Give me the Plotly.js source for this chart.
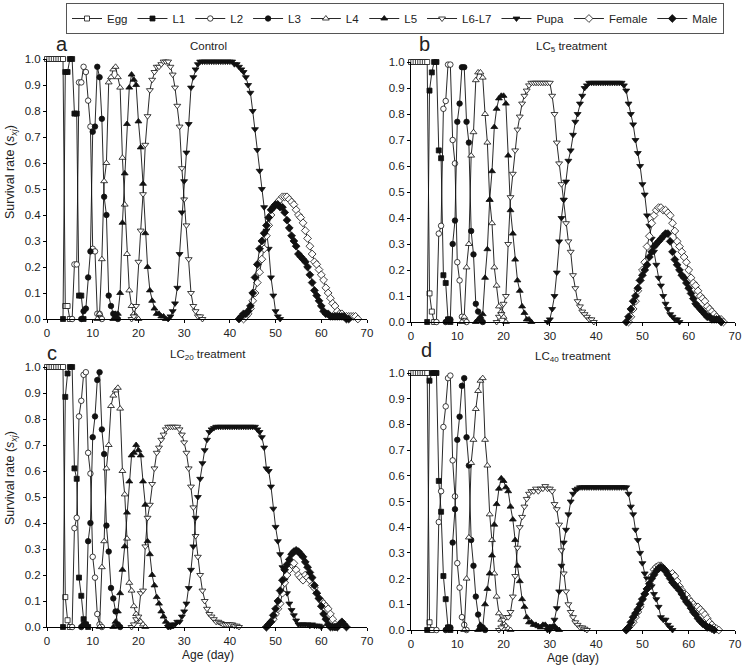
<!DOCTYPE html>
<html><head><meta charset="utf-8">
<script src="https://cdn.plot.ly/plotly-3.0.1.min.js"></script>
<style>html,body{margin:0;padding:0;background:#fff}#chart{width:742px;height:668px}</style>
</head><body><div id="chart"></div>
<script>
// Age grid step (days) shared by all series
const STEP = 0.5;
const stageNames = ['Egg','L1','L2','L3','L4','L5','L6-L7','Pupa','Female','Male'];

// ---------- Panel a: Control ----------
const startA = [0,3.5,5.5,7.5,11.0,14.5,18.5,26.5,43.0,42.0];
const a_egg = [1,1,1,1,1,1,1,1,0.05,0.05,0];
const a_L1 = [0,0.95,0.95,1,1,0.79,0.79,0.09,0.09,0];
const a_L2 = [0,0.21,0.21,0.91,0.91,0.97,0.95,0.84,0.74,0.27,0.26,0.02,0.02,0];
const a_L3 = [0,0.03,0.04,0.16,0.26,0.72,0.74,0.97,0.93,0.77,0.47,0.40,0.09,0.05,0.02,0.01,0];
const a_L4 = [0,0.02,0.23,0.53,0.60,0.91,0.93,0.96,0.97,0.93,0.89,0.62,0.44,0.25,0.11,0.05,0.02,0.01,0];
const a_L5 = [0,0.02,0.02,0.10,0.37,0.56,0.75,0.89,0.94,0.92,0.90,0.76,0.66,0.52,0.33,0.20,0.11,0.07,0.04,0.02,0.02,0.01,0.01,0];
const a_L6 = [0,0.01,0.05,0.22,0.34,0.48,0.67,0.78,0.88,0.92,0.95,0.97,0.97,0.98,0.99,0.99,0.99,0.97,0.94,0.89,0.82,0.74,0.58,0.46,0.36,0.23,0.10,0.05,0.03,0.01,0.01,0];
const a_pupa = [0,0.01,0.03,0.06,0.12,0.25,0.41,0.53,0.64,0.75,0.89,0.93,0.96,0.98,
  0.99,0.99,0.99,0.99,0.99,0.99,0.99,0.99,0.99,0.99,0.99,0.99,0.99,0.99,0.99,
  0.98,0.98,0.97,0.96,0.95,0.93,0.90,0.87,0.80,0.73,0.65,0.57,0.50,0.43,0.34,0.27,0.16,0.09,0.03,0.01,0];
const a_female = [0,0.01,0.02,0.04,0.07,0.10,0.14,0.18,0.23,0.27,0.32,0.36,0.40,0.43,0.44,0.45,0.46,0.47,0.47,0.47,0.46,0.45,0.44,0.42,0.40,0.39,0.37,0.34,0.31,0.28,0.25,0.22,0.21,0.19,0.17,0.15,0.12,0.10,0.08,0.06,0.05,0.03,0.02,0.02,0.01,0.01,0.01,0.01,0.01,0.01,0];
const a_male = [0,0.01,0.02,0.02,0.03,0.05,0.10,0.16,0.21,0.27,0.30,0.33,0.36,0.39,0.42,0.43,0.44,0.44,0.43,0.43,0.41,0.38,0.35,0.32,0.30,0.28,0.25,0.24,0.23,0.22,0.20,0.17,0.14,0.11,0.09,0.07,0.05,0.03,0.02,0.02,0.01,0.01,0.01,0.01,0.01,0.01,0.01,0,0];

// ---------- Panel b: LC5 ----------
const startB = [0,3.5,5.5,7.5,11.0,14.0,18.5,29.5,47.0,46.5];
const b_egg = [1,1,1,1,1,1,1,1,0.11,0.04,0];
const b_L1 = [0,0.89,0.96,1,1,0.66,0.63,0.18,0.15,0.01,0];
const b_L2 = [0,0.34,0.37,0.82,0.85,0.99,0.99,0.70,0.61,0.23,0.16,0.02,0.01,0];
const b_L3 = [0,0.01,0.01,0.30,0.39,0.77,0.84,0.98,0.98,0.77,0.69,0.35,0.26,0.07,0.04,0.01,0];
const b_L4 = [0,0.02,0.21,0.30,0.64,0.73,0.93,0.96,0.96,0.94,0.80,0.69,0.47,0.38,0.21,0.14,0.06,0.04,0.02,0];
const b_L5 = [0,0.01,0.02,0.03,0.17,0.28,0.47,0.58,0.75,0.82,0.86,0.87,0.87,0.84,0.64,0.43,0.34,0.24,0.16,0.12,0.06,0.035,0.01,0.01,0];
const b_L6 = [0,0.02,0.03,0.07,0.10,0.30,0.48,0.57,0.66,0.74,0.79,0.84,0.87,0.89,0.91,
  0.92,0.92,0.92,0.92,0.92,0.92,0.92,0.92,0.92,
  0.87,0.80,0.69,0.61,0.53,0.47,0.38,0.31,0.27,0.18,0.13,0.08,0.06,0.04,0.03,0.02,0.01,0.01,0];
const b_pupa = [0,0.01,0.05,0.10,0.19,0.31,0.40,0.47,0.54,0.62,0.66,0.72,0.77,0.80,0.84,0.87,0.90,0.91,0.92,
  0.92,0.92,0.92,0.92,0.92,0.92,0.92,0.92,0.92,0.92,0.92,0.92,0.92,0.92,
  0.91,0.89,0.84,0.80,0.76,0.70,0.65,0.60,0.53,0.49,0.41,0.37,0.32,0.27,0.22,0.17,0.14,0.10,0.07,0.05,0.03,0.02,0.01,0.01,0];
const b_female = [0,0.02,0.05,0.08,0.12,0.16,0.20,0.23,0.29,0.33,0.38,0.41,0.43,0.44,0.44,0.43,0.43,0.42,0.41,0.38,0.35,0.31,0.29,0.27,0.25,0.23,0.20,0.17,0.15,0.14,0.12,0.10,0.09,0.08,0.06,0.05,0.04,0.03,0.02,0.01,0.01,0];
const b_male = [0,0.02,0.05,0.08,0.10,0.13,0.16,0.18,0.20,0.22,0.25,0.27,0.29,0.30,0.31,0.32,0.33,0.34,0.34,0.31,0.27,0.24,0.22,0.20,0.18,0.17,0.15,0.13,0.11,0.09,0.07,0.06,0.05,0.04,0.03,0.02,0.02,0.01,0.01,0.01,0.01,0];

// ---------- Panel c: LC20 ----------
const startC = [0,3.5,5.5,7.5,11.5,14.5,18.5,26.5,48.0,48.0];
const c_egg = [1,1,1,1,1,1,1,1,0.115,0.026,0];
const c_L1 = [0,0.885,0.975,1,1,0.61,0.57,0.19,0.12,0.03,0.01,0];
const c_L2 = [0,0.38,0.42,0.81,0.87,0.97,0.98,0.67,0.59,0.27,0.19,0.05,0.01,0];
const c_L3 = [0,0.01,0.01,0.33,0.40,0.73,0.81,0.95,0.98,0.76,0.665,0.39,0.29,0.15,0.11,0.06,0.01,0];
const c_L4 = [0,0.23,0.33,0.61,0.70,0.85,0.89,0.91,0.92,0.84,0.60,0.51,0.34,0.17,0.14,0.08,0.05,0.03,0.02,0.01,0];
const c_L5 = [0,0.02,0.06,0.13,0.22,0.31,0.44,0.56,0.66,0.67,0.70,0.68,0.66,0.56,0.47,0.33,0.28,0.20,0.16,0.115,0.09,0.06,0.04,0.02,0.01,0];
const c_L6 = [0,0.01,0.03,0.04,0.13,0.14,0.31,0.42,0.47,0.55,0.61,0.67,0.69,0.72,0.74,0.76,0.77,0.77,0.77,0.77,0.77,0.76,0.74,
  0.71,0.67,0.61,0.54,0.46,0.35,0.27,0.20,0.14,0.10,0.07,0.05,0.04,0.03,0.02,0.02,0.015,0.01,0.01,0.01,0.01,0.01,0.005,0.005,0];
const c_pupa = [0,0,0.01,0.01,0.02,0.02,0.04,0.06,0.09,0.15,0.22,0.31,0.42,0.50,0.57,0.63,0.68,0.72,0.75,0.76,0.765,
  0.77,0.77,0.77,0.77,0.77,0.77,0.77,0.77,0.77,0.77,0.77,0.77,0.77,0.77,0.77,0.77,0.77,0.77,
  0.76,0.75,0.73,0.69,0.61,0.60,0.54,0.455,0.385,0.33,0.28,0.23,0.18,0.13,0.09,0.065,0.045,0.025,0.01,0.01,0.01,0.01,0.01,0.005,0.01,0.005,0.005,0.005,0];
const c_female = [0,0.01,0.02,0.03,0.05,0.07,0.09,0.13,0.17,0.20,0.22,0.24,0.245,0.22,0.20,0.19,0.18,0.20,0.19,0.18,0.16,0.15,0.13,0.11,0.10,0.09,0.08,0.07,0.05,0.03,0.01,0];
const c_male = [0,0.01,0.02,0.045,0.07,0.10,0.14,0.18,0.22,0.24,0.26,0.28,0.29,0.295,0.29,0.28,0.27,0.25,0.23,0.21,0.19,0.16,0.13,0.11,0.08,0.05,0.03,0.01,0,0,0,0,0.01,0.02,0.01,0];

// ---------- Panel d: LC40 ----------
const startD = [0,3.5,5.5,7.5,11.5,14.5,19.0,29.5,46.5,46.5];
const d_egg = [1,1,1,1,1,1,1,1,0.03,0];
const d_L1 = [0,0.97,1,1,1,0.58,0.46,0.21,0.12,0.01,0];
const d_L2 = [0,0.42,0.54,0.79,0.87,0.98,0.99,0.66,0.52,0.26,0.165,0.05,0.02,0];
const d_L3 = [0,0.01,0.01,0.34,0.47,0.74,0.83,0.95,0.98,0.75,0.64,0.35,0.25,0.13,0.06,0.01,0.01,0];
const d_L4 = [0,0.20,0.36,0.65,0.74,0.86,0.93,0.97,0.98,0.74,0.64,0.45,0.35,0.22,0.13,0.065,0.04,0.026,0.015,0.006,0];
const d_L5 = [0,0.02,0.01,0.10,0.16,0.22,0.29,0.41,0.49,0.55,0.59,0.58,0.555,0.54,0.48,0.43,0.35,0.25,0.19,0.12,0.09,0.05,0.03,0.03,0.02,0.02,0.015,0.01,0.02,0.02,0.01,0.01,0.01,0.015,0.005,0];
const d_L6 = [0,0.01,0.04,0.05,0.05,0.07,0.13,0.21,0.32,0.40,0.44,0.48,0.51,0.53,0.54,0.54,0.55,0.54,0.55,0.55,0.56,0.55,0.55,0.54,
  0.49,0.47,0.41,0.31,0.22,0.15,0.10,0.07,0.05,0.03,0.02,0.01,0.01,0.005,0];
const d_pupa = [0,0,0.015,0.04,0.085,0.15,0.25,0.34,0.39,0.45,0.50,0.53,0.545,0.55,
  0.555,0.555,0.555,0.555,0.555,0.555,0.555,0.555,0.555,0.555,0.555,0.555,0.555,0.555,0.555,0.555,0.555,0.555,0.555,0.555,0.555,
  0.53,0.48,0.45,0.39,0.35,0.30,0.26,0.22,0.20,0.19,0.17,0.14,0.12,0.09,0.05,0.04,0.04,0.02,0.01,0];
const d_female = [0,0.01,0.02,0.03,0.05,0.07,0.09,0.12,0.14,0.16,0.19,0.21,0.235,0.245,0.25,0.25,0.24,0.23,0.22,0.21,0.22,0.21,0.19,0.17,0.155,0.14,0.135,0.12,0.11,0.10,0.09,0.09,0.08,0.07,0.06,0.045,0.03,0.02,0.01,0.005,0];
const d_male = [0,0.01,0.03,0.05,0.065,0.08,0.10,0.12,0.14,0.16,0.18,0.20,0.215,0.23,0.24,0.245,0.24,0.23,0.215,0.20,0.185,0.175,0.165,0.155,0.14,0.125,0.11,0.10,0.085,0.07,0.06,0.045,0.035,0.025,0.02,0.01,0.01,0.005,0];

const panels = [
  {start: startA, series: [a_egg,a_L1,a_L2,a_L3,a_L4,a_L5,a_L6,a_pupa,a_female,a_male], ax: ''},
  {start: startB, series: [b_egg,b_L1,b_L2,b_L3,b_L4,b_L5,b_L6,b_pupa,b_female,b_male], ax: '2'},
  {start: startC, series: [c_egg,c_L1,c_L2,c_L3,c_L4,c_L5,c_L6,c_pupa,c_female,c_male], ax: '3'},
  {start: startD, series: [d_egg,d_L1,d_L2,d_L3,d_L4,d_L5,d_L6,d_pupa,d_female,d_male], ax: '4'}
];

const symbols = ['square','square','circle','circle','triangle-up','triangle-up','triangle-down','triangle-down','diamond','diamond'];
const filled = [false,true,false,true,false,true,false,true,false,true];
const msize = [5,5,5.5,5.5,6,6,6,6,6,6];

const traces = [];
panels.forEach((p, pi) => {
  p.series.forEach((vals, k) => {
    const x = vals.map((_, i) => p.start[k] + i * STEP);
    traces.push({
      type: 'scatter', mode: 'lines+markers',
      x: x, y: vals,
      xaxis: 'x' + p.ax, yaxis: 'y' + p.ax,
      name: stageNames[k], legendgroup: stageNames[k],
      showlegend: pi === 0,
      cliponaxis: false,
      line: {color: '#111', width: 0.9},
      marker: {symbol: symbols[k], size: msize[k], color: filled[k] ? '#111' : '#fff',
               line: {color: '#111', width: 0.8}}
    });
  });
});

const FONT = 'Liberation Sans, Arial, sans-serif';
function xa(dom, anchor) {
  return {domain: dom, anchor: anchor, range: [0, 70], dtick: 10, tick0: 0,
    showline: true, linecolor: '#000', linewidth: 1, ticks: 'outside', ticklen: 3, tickcolor: '#000',
    showgrid: false, zeroline: false, fixedrange: true,
    tickfont: {family: FONT, size: 11.5, color: '#222'}};
}
function ya(dom, anchor) {
  return {domain: dom, anchor: anchor, range: [0, 1.0], dtick: 0.1, tick0: 0, tickformat: '.1f',
    showline: true, linecolor: '#000', linewidth: 1, ticks: 'outside', ticklen: 3, tickcolor: '#000',
    showgrid: false, zeroline: false, fixedrange: true,
    tickfont: {family: FONT, size: 11.5, color: '#222'}};
}
const W = 742, H = 668;
const px = v => v / W, py = v => 1 - v / H;
const xL = [px(47), px(367)], xR = [px(411), px(735)];

const ann = (text, x, y, size, extra) => Object.assign({
  text: text, x: px(x), y: py(y), xref: 'paper', yref: 'paper', showarrow: false,
  xanchor: 'center', yanchor: 'middle', font: {family: FONT, size: size, color: '#222'}}, extra || {});

const layout = {
  width: W, height: H, margin: {l: 0, r: 0, t: 0, b: 0},
  paper_bgcolor: '#fff', plot_bgcolor: '#fff',
  xaxis: xa(xL, 'y'), yaxis: ya([py(319), py(59)], 'x'),
  xaxis2: xa(xR, 'y2'), yaxis2: ya([py(322), py(62)], 'x2'),
  xaxis3: xa(xL, 'y3'), yaxis3: ya([py(627), py(367)], 'x3'),
  xaxis4: xa(xR, 'y4'), yaxis4: ya([py(630), py(373)], 'x4'),
  showlegend: true,
  legend: {orientation: 'h', x: px(66), y: py(3), xanchor: 'left', yanchor: 'top',
    bgcolor: '#fff', bordercolor: '#555', borderwidth: 1,
    font: {family: FONT, size: 11.5, color: '#222'}, itemwidth: 30, traceorder: 'normal'},
  annotations: [
    ann('a', 62, 44, 20), ann('Control', 208, 46, 11.5),
    ann('b', 424, 44, 20), ann('LC<sub>5</sub> treatment', 572, 47, 11.5),
    ann('c', 52, 353, 20), ann('LC<sub>20</sub> treatment', 208, 355, 11.5),
    ann('d', 426, 350, 20), ann('LC<sub>40</sub> treatment', 573, 357, 11.5),
    ann('Survival rate (<i>s</i><sub><i>xj</i></sub>)', 11, 172, 12.5, {textangle: -90}),
    ann('Survival rate (<i>s</i><sub><i>xj</i></sub>)', 11, 478, 12.5, {textangle: -90}),
    ann('Age (day)', 208, 655, 12), ann('Age (day)', 573, 658, 12)
  ]
};

Plotly.newPlot('chart', traces, layout, {displayModeBar: false, staticPlot: true});
</script>
</body></html>
